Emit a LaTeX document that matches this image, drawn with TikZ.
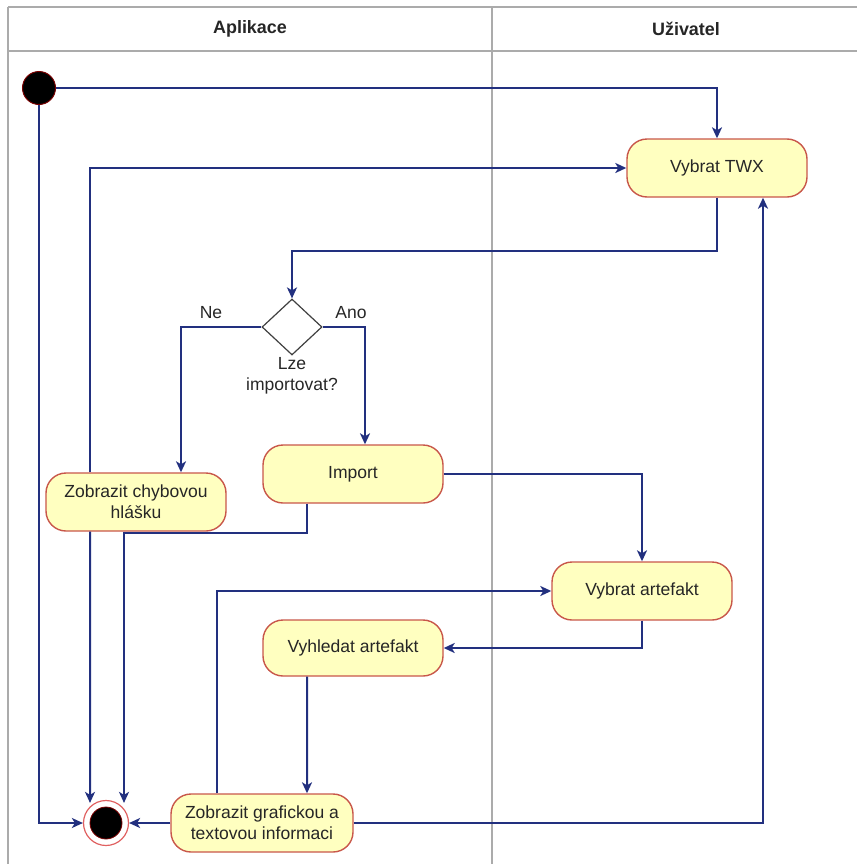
\documentclass[tikz,border=0pt]{standalone}
\usepackage{fontspec}
\setmainfont{Liberation Sans}
\usetikzlibrary{shapes.geometric,arrows.meta}
\definecolor{lane}{HTML}{ABABAB}
\definecolor{flow}{HTML}{22307F}
\definecolor{actfill}{HTML}{FFFFC0}
\definecolor{actedge}{HTML}{C8574A}
\definecolor{startedge}{HTML}{7A0000}
\definecolor{endedge}{HTML}{E06060}
\begin{document}
\begin{tikzpicture}[x=1bp,y=-1bp,
  every node/.style={font=\fontsize{17.6}{21.5}\selectfont, text=black!85},
  lanehead/.style={font=\fontsize{18}{21}\selectfont\bfseries},
  activity/.style={draw=actedge, line width=1.4bp, fill=actfill, rounded corners=20bp,
    minimum width=180bp, minimum height=58bp, inner sep=0pt, align=center},
  decision/.style={diamond, draw=black!75, line width=1.2bp, fill=white,
    minimum width=60bp, minimum height=56bp, inner sep=0pt},
  flowline/.style={draw=flow, line width=2bp, -{Stealth[length=11bp,width=10bp,inset=3bp]}},
  swimlane/.style={draw=lane, line width=1.2bp}]

\useasboundingbox (0,0) rectangle (857,864);

% swimlane frame
\draw[swimlane] (8,7) -- (857,7);
\draw[swimlane] (8,51) -- (857,51);
\draw[swimlane] (8,7) -- (8,864);
\draw[swimlane] (492,7) -- (492,864);
\node[lanehead] (laneA) at (250,29) {Aplikace};
\node[lanehead] (laneU) at (686,29) {Uživatel};

% initial and final states
\node[circle, fill=black, draw=startedge, line width=1bp, minimum size=33bp, inner sep=0pt] (start) at (39,88) {};
\node[circle, fill=white, draw=endedge, line width=1.2bp, minimum size=45bp, inner sep=0pt] (end) at (106,823) {};
\fill[black, draw=startedge, line width=0.8bp] (end.center) circle (16bp);

% activities
\node[activity] (twx) at (717,168) {Vybrat TWX};
\node[decision] (dec) at (292,327) {};
\node (ne) at (211,313) {Ne};
\node (ano) at (351,313) {Ano};
\node[align=center] (q) at (292,376) {Lze\\importovat?};
\node[activity] (chyb) at (136,502) {Zobrazit chybovou\\hlášku};
\node[activity] (imp) at (353,474) {Import};
\node[activity] (vart) at (642,591) {Vybrat artefakt};
\node[activity, minimum height=56bp] (vyh) at (353,648) {Vyhledat artefakt};
\node[activity, minimum width=182bp] (graf) at (262,823) {Zobrazit grafickou a\\textovou informaci};

% control flow
\draw[flowline] (start.east) -| (twx.north);
\draw[flowline] (twx.south) -- ++(0,53) -| (dec.north);
\draw[flowline] (dec.west) -| ([xshift=45bp]chyb.north);
\draw[flowline] (dec.east) -| ([xshift=12bp]imp.north);
\draw[flowline] (imp.east) -| (vart.north);
\draw[flowline] ([xshift=-46bp]imp.south) -- ++(0,29) -| ([xshift=18bp,yshift=-3bp]end.north);
\draw[flowline] (vart.south) |- (vyh.east);
\draw[flowline] ([xshift=-46bp]vyh.south) -- ([xshift=45bp]graf.north);
\draw[flowline] ([xshift=-45bp]graf.north) |- (vart.west);
\draw[flowline] (graf.east) -| ([xshift=46bp]twx.south);
\draw[flowline] (graf.west) -- (end.east);
\draw[flowline] ([xshift=-46bp]chyb.north) |- (twx.west);
\draw[flowline] ([xshift=-46bp]chyb.south) -- ([xshift=-16bp,yshift=-3bp]end.north);
\draw[flowline] (start.south) |- (end.west);
\end{tikzpicture}
\end{document}
